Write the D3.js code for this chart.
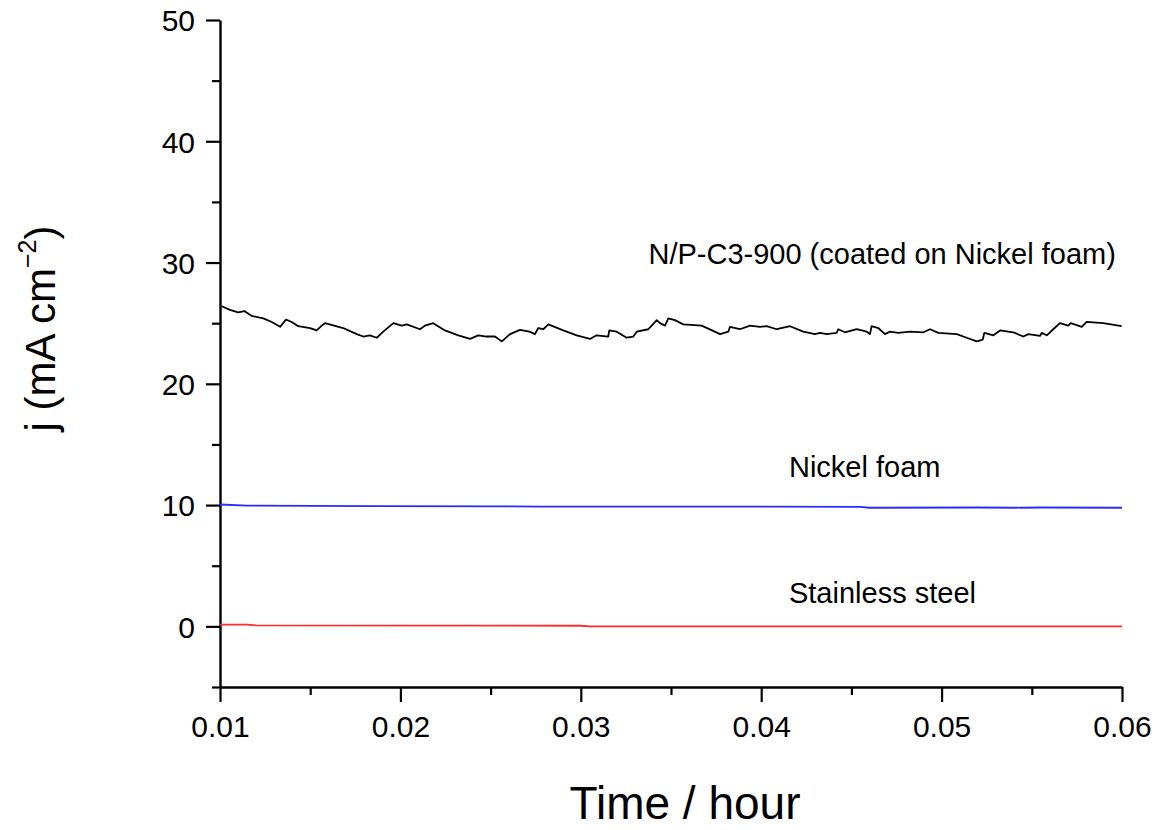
<!DOCTYPE html>
<html>
<head>
<meta charset="utf-8">
<script src="https://cdn.jsdelivr.net/npm/d3@7"></script>
<style>
  body { margin: 0; background: #fff; }
  text { font-family: "Liberation Sans", Arial, sans-serif; fill: #000; }
</style>
</head>
<body>
<div id="graph"></div>
<script>
// N/P-C3-900 on nickel foam (black)
const npTime = [0.0101, 0.01055, 0.01101, 0.01135, 0.01176, 0.0124, 0.01287, 0.01333, 0.01366, 0.01397,
  0.01434, 0.01499, 0.01536, 0.01564, 0.01582, 0.01683, 0.01758, 0.01794, 0.01831, 0.01869,
  0.01905, 0.01961, 0.02007, 0.02035, 0.02109, 0.02136, 0.02182, 0.02247, 0.02321, 0.02386,
  0.02432, 0.02478, 0.02524, 0.02562, 0.02608, 0.02663, 0.02715, 0.02746, 0.02764, 0.02792,
  0.0282, 0.02903, 0.02977, 0.03051, 0.03088, 0.03152, 0.03158, 0.03199, 0.03254, 0.03291,
  0.0331, 0.03374, 0.03393, 0.03421, 0.03439, 0.03467, 0.03485, 0.03522, 0.03568, 0.0367,
  0.03772, 0.03818, 0.03827, 0.03882, 0.03938, 0.03993, 0.0403, 0.04086, 0.0416, 0.04233,
  0.04298, 0.04326, 0.04363, 0.04418, 0.04427, 0.04464, 0.04529, 0.04585, 0.04603, 0.04612,
  0.04649, 0.04686, 0.04714, 0.0476, 0.04825, 0.04899, 0.04936, 0.04982, 0.05084, 0.05139,
  0.05195, 0.05228, 0.05237, 0.05287, 0.05324, 0.05397, 0.05453, 0.05481, 0.05545, 0.05555,
  0.05583, 0.05619, 0.05656, 0.05702, 0.05716, 0.05777, 0.05804, 0.05896, 0.05998];
const npCurrent = [26.4, 26.1, 25.9, 26.0, 25.6, 25.4, 25.1, 24.7, 25.3, 25.1,
  24.75, 24.6, 24.4, 24.8, 25.0, 24.6, 24.1, 23.9, 24.0, 23.8,
  24.3, 25.0, 24.8, 24.9, 24.5, 24.8, 25.0, 24.4, 24.0, 23.7,
  24.0, 23.9, 23.9, 23.5, 24.1, 24.45, 24.3, 24.1, 24.6, 24.5,
  24.9, 24.4, 24.0, 23.7, 24.0, 23.9, 24.4, 24.3, 23.8, 23.9,
  24.3, 24.5, 24.8, 25.25, 25.0, 24.8, 25.4, 25.25, 24.9, 24.8,
  24.1, 24.3, 24.7, 24.5, 24.8, 24.7, 24.75, 24.5, 24.75, 24.3,
  24.1, 24.2, 24.1, 24.2, 24.5, 24.25, 24.5, 24.3, 24.1, 24.75,
  24.6, 24.1, 24.3, 24.2, 24.3, 24.25, 24.5, 24.2, 24.1, 23.8,
  23.5, 23.65, 24.2, 24.0, 24.4, 24.25, 23.9, 24.1, 23.95, 24.2,
  24.0, 24.5, 25.0, 24.8, 25.0, 24.7, 25.1, 25.0, 24.75];

// bare nickel foam (blue)
const nfTime = [0.01, 0.0115, 0.0185, 0.028, 0.04, 0.0455, 0.046, 0.052, 0.0545, 0.0555, 0.06];
const nfCurrent = [10.05, 9.95, 9.92, 9.88, 9.88, 9.85, 9.78, 9.8, 9.78, 9.8, 9.78];

// stainless steel (red)
const ssTime = [0.01, 0.0115, 0.012, 0.03, 0.0305, 0.06];
const ssCurrent = [0.15, 0.15, 0.08, 0.05, 0.0, 0.0];

const xTicks = [0.01, 0.02, 0.03, 0.04, 0.05, 0.06];
const yTicks = [0, 10, 20, 30, 40, 50];

const labels = [
  {text: "N/P-C3-900 (coated on Nickel foam)", t: 0.03375, j: 29.9},
  {text: "Nickel foam", t: 0.04154, j: 12.3},
  {text: "Stainless steel", t: 0.04154, j: 1.9}
];

const margin = {top: 20, right: 37, bottom: 143, left: 220},
  width = 1159 - margin.left - margin.right,
  height = 830 - margin.top - margin.bottom;

const svg = d3.select("#graph")
  .append("svg")
    .attr("width", 1159)
    .attr("height", 830)
  .append("g")
    .attr("transform", `translate(${margin.left}, ${margin.top})`);

const x = d3.scaleLinear().domain([0.01, 0.06]).range([0, width]);
const y = d3.scaleLinear().domain([-5, 50]).range([height, 0]);

// minor ticks first, then the major axis over them
svg.append("g")
  .attr("transform", `translate(0, ${height})`)
  .call(d3.axisBottom(x).tickValues(d3.range(0.015, 0.06, 0.01)).tickSize(8).tickSizeOuter(0).tickFormat(""))
  .call(g => g.select(".domain").remove());

svg.append("g")
  .call(d3.axisLeft(y).tickValues(d3.range(-5, 50, 10)).tickSize(8).tickSizeOuter(0).tickFormat(""))
  .call(g => g.select(".domain").remove());

const xAxis = svg.append("g")
  .attr("transform", `translate(0, ${height})`)
  .call(d3.axisBottom(x).tickValues(xTicks).tickSize(15).tickSizeOuter(0).tickPadding(14)
    .tickFormat(d3.format(".2f")));

const yAxis = svg.append("g")
  .call(d3.axisLeft(y).tickValues(yTicks).tickSize(14).tickSizeOuter(0).tickPadding(11)
    .tickFormat(d3.format("d")));

svg.selectAll(".tick line").attr("stroke", "#000").attr("stroke-width", 2.2);
svg.selectAll(".domain").attr("stroke", "#000").attr("stroke-width", 2.4);
xAxis.selectAll("text").attr("font-size", 30);
yAxis.selectAll("text").attr("font-size", 30).attr("dy", "0.36em");

const line = d3.line().x(d => x(d[0])).y(d => y(d[1]));

const series = [
  {t: ssTime, j: ssCurrent, color: "#ff2b2b"},
  {t: nfTime, j: nfCurrent, color: "#2b2bff"},
  {t: npTime, j: npCurrent, color: "#000"}
];

svg.append("g")
  .selectAll("path")
  .data(series)
  .enter()
  .append("path")
    .attr("fill", "none")
    .attr("stroke", d => d.color)
    .attr("stroke-width", 1.8)
    .attr("stroke-linejoin", "round")
    .attr("d", d => line(d3.zip(d.t, d.j)));

svg.append("g")
  .selectAll("text")
  .data(labels)
  .enter()
  .append("text")
    .attr("x", d => x(d.t))
    .attr("y", d => y(d.j))
    .attr("font-size", 29)
    .text(d => d.text);

// axis titles
svg.append("text")
  .attr("x", width / 2 + 14)
  .attr("y", height + 132)
  .attr("text-anchor", "middle")
  .attr("font-size", 46)
  .text("Time / hour");

const yTitle = svg.append("text")
  .attr("transform", `translate(${-165}, ${height / 2 - 25}) rotate(-90)`)
  .attr("text-anchor", "middle")
  .attr("font-size", 42);
yTitle.append("tspan").text("j (mA cm");
yTitle.append("tspan").attr("font-size", 25).attr("dy", "-0.75em").text("\u22122");
yTitle.append("tspan").attr("dy", "0.45em").text(")");
</script>
</body>
</html>
